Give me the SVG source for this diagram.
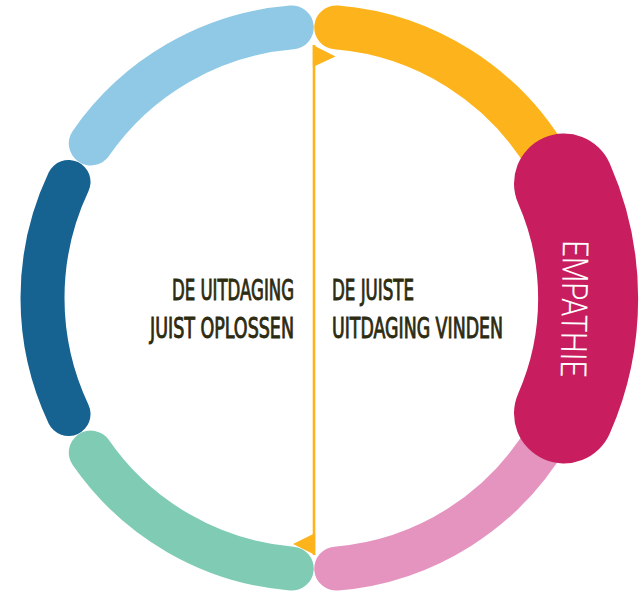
<svg xmlns="http://www.w3.org/2000/svg" width="640" height="595" viewBox="0 0 640 595">
<style>
.seg{fill:none;stroke-width:44;stroke-linecap:round}
.lbl{font-family:"Liberation Sans Narrow","DejaVu Sans Condensed","Liberation Sans",sans-serif;font-size:27.5px;fill:#2d2b10;stroke:#2d2b10;stroke-width:0.9}
.emp{font-family:Roboto,"Open Sans","Liberation Sans",sans-serif;font-weight:300;font-size:36px;fill:#ffffff}
.conn{stroke:#FDB41C;stroke-width:2.6;fill:none}
.flag{fill:#FDB41C}
</style>
<rect width="640" height="595" fill="#ffffff"/>
<g id="seg-lightblue"><path class="seg" stroke="#8FC9E6" d="M90.79,143.44 A271.5,271.5 0 0 1 291.75,27.41"/></g>
<g id="seg-yellow"><path class="seg" stroke="#FDB41C" d="M336.25,27.41 A271.5,271.5 0 0 1 549.13,162.25"/></g>
<g id="seg-pink"><path class="seg" stroke="#E594BF" d="M549.13,433.75 A271.5,271.5 0 0 1 336.25,568.59"/></g>
<g id="seg-teal"><path class="seg" stroke="#7FCBB4" d="M291.75,568.59 A271.5,271.5 0 0 1 90.79,452.56"/></g>
<g id="seg-darkblue"><path class="seg" stroke="#166392" d="M68.54,414.03 A271.5,271.5 0 0 1 68.54,181.97"/></g>
<g id="empathie">
<path d="M564,183.5 A286,286 0 0 1 564,413.5" fill="none" stroke="#C81E5F" stroke-width="100" stroke-linecap="round"/>
<text class="emp" x="563" y="240" transform="rotate(91 563 240)" textLength="137" lengthAdjust="spacingAndGlyphs">EMPATHIE</text>
</g>
<g id="connectors">
<line class="conn" x1="314" y1="45" x2="314" y2="555"/>
<polygon class="flag" points="312.8,45 335.5,56.5 312.8,67"/>
<polygon class="flag" points="315.2,533 293,544 315.2,555"/>
</g>
<g id="label-left">
<text class="lbl" transform="translate(172 300) scale(0.75 1)" textLength="162.7" lengthAdjust="spacingAndGlyphs">DE UITDAGING</text>
<text class="lbl" transform="translate(150 338) scale(0.75 1)" textLength="192" lengthAdjust="spacingAndGlyphs">JUIST OPLOSSEN</text>
</g>
<g id="label-right">
<text class="lbl" transform="translate(332 300) scale(0.75 1)" textLength="109.3" lengthAdjust="spacingAndGlyphs">DE JUISTE</text>
<text class="lbl" transform="translate(332 338) scale(0.75 1)" textLength="228" lengthAdjust="spacingAndGlyphs">UITDAGING VINDEN</text>
</g>
</svg>
